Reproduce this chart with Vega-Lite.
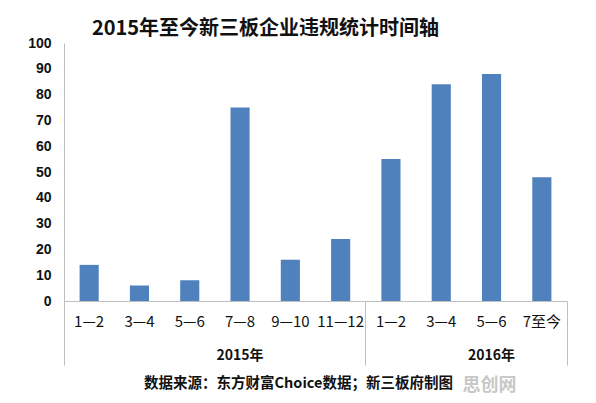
{
  "$schema": "https://vega.github.io/schema/vega-lite/v6.json",
  "width": 503,
  "height": 258,
  "autosize": {"type": "none"},
  "padding": {"left": 64, "top": 43, "right": 29, "bottom": 102},
  "background": "white",
  "title": {
    "text": "2015年至今新三板企业违规统计时间轴",
    "font": "Noto Sans CJK SC",
    "fontSize": 20,
    "fontWeight": "bold",
    "color": "#111111",
    "anchor": "middle",
    "frame": "group",
    "dx": -50,
    "offset": -3
  },
  "data": {
    "values": [
      {"key": "2015|1—2", "year": "2015年", "period": "1—2", "value": 14},
      {"key": "2015|3—4", "year": "2015年", "period": "3—4", "value": 6},
      {"key": "2015|5—6", "year": "2015年", "period": "5—6", "value": 8},
      {"key": "2015|7—8", "year": "2015年", "period": "7—8", "value": 75},
      {"key": "2015|9—10", "year": "2015年", "period": "9—10", "value": 16},
      {"key": "2015|11—12", "year": "2015年", "period": "11—12", "value": 24},
      {"key": "2016|1—2", "year": "2016年", "period": "1—2", "value": 55},
      {"key": "2016|3—4", "year": "2016年", "period": "3—4", "value": 84},
      {"key": "2016|5—6", "year": "2016年", "period": "5—6", "value": 88},
      {"key": "2016|7至今", "year": "2016年", "period": "7至今", "value": 48}
    ]
  },
  "layer": [
    {
      "mark": {"type": "bar", "color": "#4f81bd", "width": {"band": 0.38}},
      "encoding": {
        "x": {
          "field": "key",
          "type": "nominal",
          "sort": null,
          "scale": {"paddingInner": 0, "paddingOuter": 0},
          "axis": {
            "orient": "bottom",
            "title": null,
            "labelAngle": 0,
            "labelExpr": "split(datum.value,'|')[1]",
            "labelFont": "Noto Sans CJK SC",
            "labelFontSize": 15,
            "labelColor": "#111111",
            "labelPadding": 13,
            "ticks": false,
            "domain": true,
            "domainColor": "#bfbfbf",
            "domainWidth": 1
          }
        },
        "y": {
          "field": "value",
          "type": "quantitative",
          "scale": {"domain": [0, 100], "nice": false},
          "axis": {
            "title": null,
            "values": [0, 10, 20, 30, 40, 50, 60, 70, 80, 90, 100],
            "grid": false,
            "ticks": false,
            "labelFont": "Liberation Sans",
            "labelFontSize": 14,
            "labelFontWeight": "bold",
            "labelColor": "#111111",
            "labelPadding": 13,
            "domainColor": "#bfbfbf"
          }
        }
      }
    },
    {
      "mark": {"type": "bar", "opacity": 0},
      "encoding": {
        "x": {
          "field": "key",
          "type": "nominal",
          "sort": null,
          "axis": {
            "orient": "bottom",
            "title": null,
            "values": ["2015|7—8", "2016|5—6"],
            "bandPosition": 0,
            "labelAngle": 0,
            "labelExpr": "slice(datum.value,0,4)+'年'",
            "labelFont": "Noto Sans CJK SC",
            "labelFontSize": 14,
            "labelFontWeight": "bold",
            "labelColor": "#111111",
            "labelPadding": 47,
            "ticks": false,
            "domain": false
          }
        }
      }
    },
    {
      "mark": {"type": "bar", "opacity": 0},
      "encoding": {
        "x": {
          "field": "key",
          "type": "nominal",
          "sort": null,
          "axis": {
            "orient": "bottom",
            "values": ["2015|1—2", "2016|1—2"],
            "bandPosition": 0,
            "labels": false,
            "ticks": true,
            "tickSize": 64,
            "tickColor": "#bfbfbf",
            "domain": false,
            "title": "数据来源：东方财富Choice数据；新三板府制图",
            "titleFont": "Noto Sans CJK SC",
            "titleFontSize": 14.5,
            "titleFontWeight": "bold",
            "titleColor": "#111111",
            "titleX": 234,
            "titleY": 82,
            "titleAlign": "center",
            "titleBaseline": "middle"
          }
        }
      }
    },
    {
      "mark": {"type": "bar", "opacity": 0},
      "encoding": {
        "x": {
          "field": "key",
          "type": "nominal",
          "sort": null,
          "axis": {
            "orient": "bottom",
            "values": ["2016|7至今"],
            "bandPosition": 1,
            "labels": false,
            "ticks": true,
            "tickSize": 64,
            "tickColor": "#bfbfbf",
            "domain": false,
            "title": "思创网",
            "titleFont": "Noto Sans CJK SC",
            "titleFontSize": 18,
            "titleFontWeight": "bold",
            "titleColor": "#c8c8c8",
            "titleX": 425,
            "titleY": 84,
            "titleAlign": "center",
            "titleBaseline": "middle"
          }
        }
      }
    }
  ],
  "resolve": {"axis": {"x": "independent"}},
  "config": {"view": {"stroke": null}}
}
